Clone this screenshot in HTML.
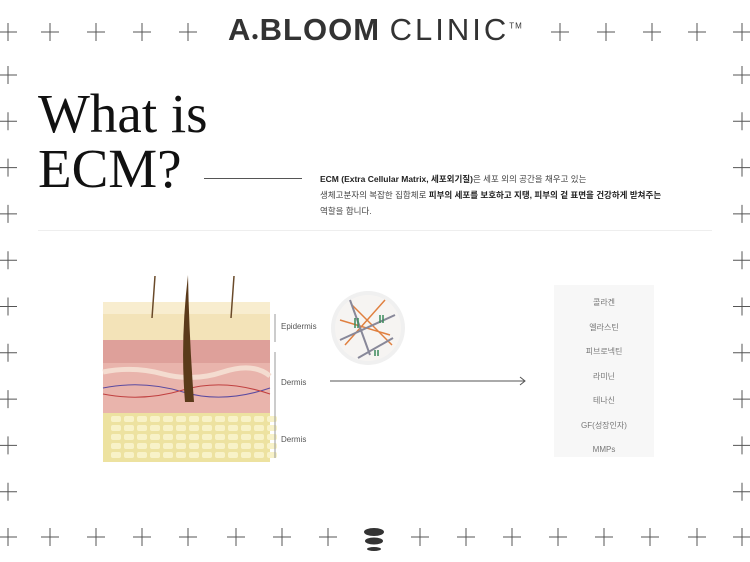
<!DOCTYPE html>
<html><head><meta charset="utf-8"><style>
body{margin:0;width:750px;height:562px;background:#fff;position:relative;overflow:hidden;font-family:"Liberation Sans","Noto Sans CJK KR",sans-serif}
.a{position:absolute}
svg{position:absolute;left:0;top:0}
</style></head><body>
<svg width="750" height="562">
<g stroke="#555" stroke-width="1">
<path id="c" d=""/>
</g>
</svg>
<svg width="750" height="562" id="s"></svg>
<div class="a" style="left:228px;top:12px;font-size:31px;color:#333;letter-spacing:1px;white-space:nowrap"><b>A<span style="font-size:12px">●</span>BLOOM</b> <span style="font-weight:300;letter-spacing:3px">CLINIC</span><sup style="font-size:8px">TM</sup></div>
<div class="a" style="left:38px;top:86px;font-family:'Liberation Serif',serif;font-size:55px;line-height:55px;color:#111">What is<br>ECM?</div>
<div class="a" style="left:204px;top:178px;width:98px;height:1px;background:#555"></div>
<div class="a" style="left:320px;top:171px;font-size:8.5px;line-height:16px;color:#444;white-space:nowrap"><b style="color:#222">ECM (Extra Cellular Matrix, 세포외기질)</b>은 세포 외의 공간을 채우고 있는<br>생체고분자의 복잡한 집합체로 <b style="color:#222">피부의 세포를 보호하고 지탱, 피부의 겉 표면을 건강하게 받쳐주는</b><br>역할을 합니다.</div>
<div class="a" style="left:38px;top:230px;width:674px;height:1px;background:#eee"></div>
<div class="a" style="left:554px;top:285px;width:100px;height:172px;background:#f7f7f7"></div>
<div class="a" style="left:554px;top:291px;width:100px;font-size:8px;line-height:24.5px;color:#777;text-align:center">콜라겐<br>엘라스틴<br>피브로넥틴<br>라미닌<br>테나신<br>GF(성장인자)<br>MMPs</div>
<div class="a" style="left:281px;top:322px;font-size:8px;color:#555">Epidermis</div>
<div class="a" style="left:281px;top:378px;font-size:8px;color:#555">Dermis</div>
<div class="a" style="left:281px;top:435px;font-size:8px;color:#555">Dermis</div>
<script>
var d="";function c(x,y){d+="M"+(x-9)+" "+y+"h18M"+x+" "+(y-9)+"v18";}
[8,50,96,142,188,560,606,652,697,742].forEach(x=>c(x,32));
[8,50,96,142,188,236,282,328,420,466,512,558,604,650,697,742].forEach(x=>c(x,537));
for(var y=75;y<537;y+=46.3){c(8,y);c(742,y);}
document.getElementById('c').setAttribute('d',d);
var s=document.getElementById('s');
s.innerHTML=`
<rect x="103" y="412" width="167" height="50" fill="#ede2a0"/>
<g fill="#f8f2c8">${(function(){var r="";for(var yy=416;yy<460;yy+=9)for(var xx=105+(yy%18?6:0);xx<268;xx+=13)r+='<rect x="'+xx+'" y="'+yy+'" width="10" height="6" rx="2"/>';return r})()}</g>
<rect x="103" y="338" width="167" height="75" fill="#e9b4ac"/>
<rect x="103" y="338" width="167" height="25" fill="#dea09a"/>
<path d="M103 372 q30 -6 60 2 t60 -2 t47 4" stroke="#f4dcd0" stroke-width="5" fill="none"/>
<path d="M103 388 q40 -8 80 4 t87 -4" stroke="#5a4aa0" fill="none"/>
<path d="M103 394 q40 8 80 -4 t87 4" stroke="#c04040" fill="none"/>
<rect x="103" y="302" width="167" height="38" fill="#f3e3b8"/>
<rect x="103" y="302" width="167" height="12" fill="#f8edcf"/>
<path d="M185 402 q-5 -60 3 -127 q1 60 6 127z" fill="#5a3a1a"/>
<path d="M152 318 l3 -42 M231 318 l3 -42" stroke="#6a4a2a" stroke-width="1.5"/>
<path d="M275 314v28M275 352v76M275 428v30" stroke="#999"/>
<circle cx="368" cy="328" r="37" fill="#f0f0f0"/>
<circle cx="368" cy="328" r="33" fill="#f6f4f2"/>
<g stroke="#e08040" stroke-width="1.5"><path d="M345 345l40 -45M352 305l40 40M340 320l50 15"/></g>
<g stroke="#889" stroke-width="2"><path d="M340 340l55 -25M350 300l20 55M358 358l35 -20"/></g>
<g stroke="#3a8a5a" stroke-width="1.5"><path d="M355 318v10M358 318v10M380 315v8M383 315v8M375 350v6M378 350v6"/></g>
<path d="M330 381h195M520 377l5 4-5 4" stroke="#555" fill="none"/>
<ellipse cx="374" cy="532" rx="10" ry="4" fill="#333"/><ellipse cx="374" cy="541" rx="9" ry="3.5" fill="#333"/><ellipse cx="374" cy="549" rx="7" ry="2" fill="#333"/>
`;
</script>
</body></html>
